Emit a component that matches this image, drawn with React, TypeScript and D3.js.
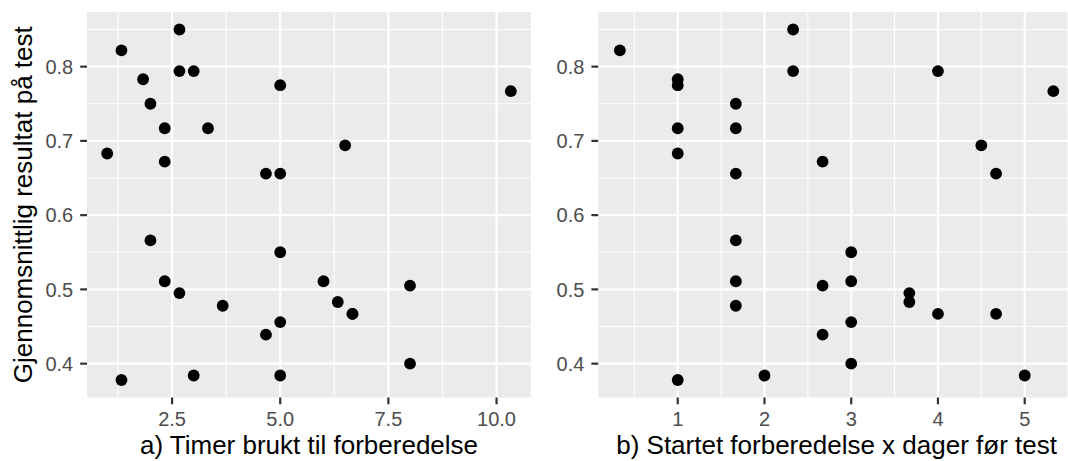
import React from "react";
import * as d3 from "d3";

// Data (one row per student)
const score = [0.822, 0.850, 0.783, 0.794, 0.794, 0.750, 0.775, 0.767, 0.717, 0.717, 0.683, 0.672, 0.694, 0.656, 0.656, 0.566, 0.550, 0.511, 0.511, 0.495, 0.478, 0.505, 0.483, 0.467, 0.467, 0.456, 0.439, 0.400, 0.378, 0.384, 0.384];
const hours = [1.33, 2.67, 1.83, 2.67, 3.0, 2.0, 5.0, 10.33, 2.33, 3.33, 1.0, 2.33, 6.5, 4.67, 5.0, 2.0, 5.0, 2.33, 6.0, 2.67, 3.67, 8.0, 6.33, 6.67, 6.67, 5.0, 4.67, 8.0, 1.33, 3.0, 5.0];
const days = [0.333, 2.33, 1.0, 2.33, 4.0, 1.67, 1.0, 5.33, 1.0, 1.67, 1.0, 2.67, 4.5, 1.67, 4.67, 1.67, 3.0, 1.67, 3.0, 3.67, 1.67, 2.67, 3.67, 4.0, 4.67, 3.0, 2.67, 3.0, 1.0, 2.0, 5.0];

const yTicks = [0.4, 0.5, 0.6, 0.7, 0.8];
const yTickLabels = ["0.4", "0.5", "0.6", "0.7", "0.8"];
const hoursTicks = [2.5, 5.0, 7.5, 10.0];
const hoursTickLabels = ["2.5", "5.0", "7.5", "10.0"];
const daysTicks = [1, 2, 3, 4, 5];
const daysTickLabels = ["1", "2", "3", "4", "5"];

const yTitle = "Gjennomsnittlig resultat på test";
const xTitleA = "a) Timer brukt til forberedelse";
const xTitleB = "b) Startet forberedelse x dager før test";

const FONT = "'Liberation Sans', Arial, Helvetica, sans-serif";
const PANEL_BG = "#EBEBEB";
const TICK_COL = "#333333";
const LABEL_COL = "#4D4D4D";

function expand(ext: [number, number]): [number, number] {
  const s = ext[1] - ext[0];
  return [ext[0] - s * 0.05, ext[1] + s * 0.05];
}

function midpoints(ticks: number[], domain: [number, number]) {
  const step = ticks[1] - ticks[0];
  const out: number[] = [];
  for (let v = ticks[0] - step / 2; v <= domain[1]; v += step) {
    if (v >= domain[0]) out.push(v);
  }
  return out;
}

type PanelProps = {
  x0: number;
  x1: number;
  xs: number[];
  xTicks: number[];
  xTickLabels: string[];
  xTitle: string;
};

const TOP = 12;
const BOTTOM = 397.5;
const TICK_LEN = 6.8;
const TICK_FS = 20;
const TITLE_FS = 26;

const yDomain = expand(d3.extent(score) as [number, number]);
const yScale = d3.scaleLinear().domain(yDomain).range([BOTTOM, TOP]);
const yMinor = midpoints(yTicks, yDomain);

function Panel({ x0, x1, xs, xTicks, xTickLabels, xTitle }: PanelProps) {
  const xDomain = expand(d3.extent(xs) as [number, number]);
  const xScale = d3.scaleLinear().domain(xDomain).range([x0, x1]);
  const xMinor = midpoints(xTicks, xDomain);
  return (
    <g>
      <rect x={x0} y={TOP} width={x1 - x0} height={BOTTOM - TOP} fill={PANEL_BG} />
      {yMinor.map((v, i) => (
        <line key={"ym" + i} x1={x0} x2={x1} y1={yScale(v)} y2={yScale(v)} stroke="#fff" strokeWidth={1.1} />
      ))}
      {xMinor.map((v, i) => (
        <line key={"xm" + i} x1={xScale(v)} x2={xScale(v)} y1={TOP} y2={BOTTOM} stroke="#fff" strokeWidth={1.1} />
      ))}
      {yTicks.map((v, i) => (
        <line key={"yM" + i} x1={x0} x2={x1} y1={yScale(v)} y2={yScale(v)} stroke="#fff" strokeWidth={2.2} />
      ))}
      {xTicks.map((v, i) => (
        <line key={"xM" + i} x1={xScale(v)} x2={xScale(v)} y1={TOP} y2={BOTTOM} stroke="#fff" strokeWidth={2.2} />
      ))}
      {xs.map((v, i) => (
        <circle key={"p" + i} cx={xScale(v)} cy={yScale(score[i])} r={5.9} fill="#000" />
      ))}
      {yTicks.map((v, i) => (
        <g key={"yt" + i}>
          <line x1={x0 - TICK_LEN} x2={x0} y1={yScale(v)} y2={yScale(v)} stroke={TICK_COL} strokeWidth={2.2} />
          <text x={x0 - TICK_LEN - 7} y={yScale(v)} dy="0.36em" textAnchor="end" fontSize={TICK_FS} fill={LABEL_COL} fontFamily={FONT}>
            {yTickLabels[i]}
          </text>
        </g>
      ))}
      {xTicks.map((v, i) => (
        <g key={"xt" + i}>
          <line x1={xScale(v)} x2={xScale(v)} y1={BOTTOM} y2={BOTTOM + TICK_LEN} stroke={TICK_COL} strokeWidth={2.2} />
          <text x={xScale(v)} y={BOTTOM + TICK_LEN + 7.5} dy="0.72em" textAnchor="middle" fontSize={TICK_FS} fill={LABEL_COL} fontFamily={FONT}>
            {xTickLabels[i]}
          </text>
        </g>
      ))}
      <text x={(x0 + x1) / 2} y={444.5} dy="0.36em" textAnchor="middle" fontSize={TITLE_FS} fill="#000" fontFamily={FONT}>
        {xTitle}
      </text>
    </g>
  );
}

export default function App() {
  return (
    <svg
      width={1068}
      height={461}
      style={{ position: "absolute", left: 0, top: 0, background: "#fff" }}
    >
      <rect x={0} y={0} width={1068} height={461} fill="#fff" />
      <Panel x0={87} x1={531} xs={hours} xTicks={hoursTicks} xTickLabels={hoursTickLabels} xTitle={xTitleA} />
      <Panel x0={598.2} x1={1075} xs={days} xTicks={daysTicks} xTickLabels={daysTickLabels} xTitle={xTitleB} />
      <text
        transform={`translate(22.5, ${(TOP + BOTTOM) / 2}) rotate(-90)`}
        dy="0.36em"
        textAnchor="middle"
        fontSize={TITLE_FS}
        fill="#000"
        fontFamily={FONT}
      >
        {yTitle}
      </text>
    </svg>
  );
}
